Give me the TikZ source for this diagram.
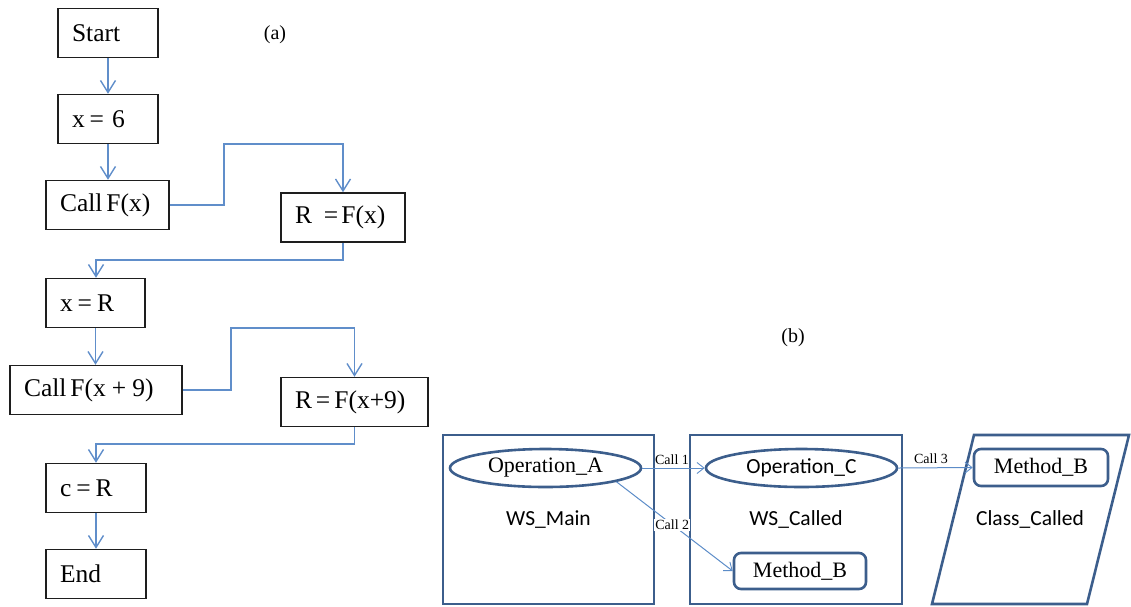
\documentclass[tikz,border=0pt]{standalone}
\usepackage{fontspec}
\setmainfont{Liberation Serif}
\newfontfamily\calib{Carlito}
\usetikzlibrary{arrows.meta,shapes.geometric}
\definecolor{lineblue}{RGB}{96,142,202}
\definecolor{darkblue}{RGB}{60,94,140}
\definecolor{callblue}{RGB}{92,140,200}
\definecolor{boxblack}{RGB}{30,30,30}
\newcommand{\hk}[1]{\kern#1pt\relax}
\begin{document}
\begin{tikzpicture}[x=1pt,y=-1pt,
  fc/.style={draw=boxblack, line width=1.5pt, inner xsep=14pt, inner ysep=0pt,
    minimum height=49pt, align=left, font=\fontsize{25.5}{29}\selectfont},
  conn/.style={draw=lineblue, line width=1.6pt,
    -{Straight Barb[length=12pt,width=15pt,line width=1.4pt]}},
  wsbox/.style={draw=darkblue, line width=2.6pt, inner sep=0pt,
    font=\calib\fontsize{21.5}{24}\selectfont},
  opell/.style={ellipse, draw=darkblue, line width=2.6pt, inner sep=0pt,
    minimum width=191pt, minimum height=38pt},
  mbox/.style={draw=darkblue, line width=2.6pt, rounded corners=7pt, inner sep=0pt,
    font=\fontsize{22}{26}\selectfont},
  callarr/.style={draw=callblue, line width=1pt,
    -{Straight Barb[length=7pt,width=11pt,line width=0.9pt]}},
  calllbl/.style={font=\fontsize{14}{16}\selectfont, inner sep=1pt}
]
\useasboundingbox (0,0) rectangle (1131,606);

% ---------- (a) flowchart ----------
\node[fc, text width=72pt] (start) at (108,33) {Start};
\node[fc, text width=72pt] (x6) at (108,119) {x\hk{5}=\hk{8}6};
\node[fc, text width=95pt] (callf) at (107.5,205) {Call\hk{4}F(x)};
\node[fc, text width=96pt] (rf) at (343,217.5) {R\hk{12}=\hk{3}F(x)};
\node[fc, text width=71pt] (xr) at (95.5,303) {x\hk{5}=\hk{5}R};
\node[fc, text width=144pt] (callf9) at (96,390) {Call\hk{4}F(x\hk{6}+\hk{6}9)};
\node[fc, text width=119pt] (rf9) at (354.5,402) {R\hk{4}=\hk{4}F(x+9)};
\node[fc, text width=72pt] (cr) at (96,488) {c\hk{5}=\hk{5}R};
\node[fc, text width=72pt] (endn) at (96,574) {End};

\node[font=\fontsize{20}{24}\selectfont] (la) at (275,35) {(a)};
\node[font=\fontsize{20}{24}\selectfont] (lb) at (793,338) {(b)};

\coordinate (k1) at (224,144);
\coordinate (k2) at (96,260);
\coordinate (k3) at (231,328);
\coordinate (k4) at (96,444);

\draw[conn] (start.south) -- (x6.north);
\draw[conn] (x6.south) -- (x6.south |- callf.north);
\draw[conn] (callf.east) -| (k1) -| (rf.north);
\draw[conn] (rf.south) |- (k2) -- (k2 |- xr.north);
\draw[conn] (xr.south) -- (xr.south |- callf9.north);
\draw[conn] (callf9.east) -| (k3) -| (rf9.north);
\draw[conn] (rf9.south) |- (k4) -- (k4 |- cr.north);
\draw[conn] (cr.south) -- (endn.north);

% ---------- (b) services ----------
\node[wsbox, minimum width=211pt, minimum height=169pt] (wsmain) at (548.5,519.5) {WS\_Main};
\node[wsbox, minimum width=212pt, minimum height=169pt] (wscalled) at (796,519.5) {WS\_Called};

\coordinate (p1) at (974,435);
\coordinate (p2) at (1129,435);
\coordinate (p3) at (1087,604);
\coordinate (p4) at (932,604);
\draw[draw=darkblue, line width=2.6pt, line join=miter] (p1) -- (p2) -- (p3) -- (p4) -- cycle;
\node[font=\calib\fontsize{21.5}{24}\selectfont] (classc) at (1030,519) {Class\_Called};

\node[opell, font=\fontsize{22}{26}\selectfont] (opa) at (545.5,468) {Operation\_A};
\node[opell, font=\calib\fontsize{21.5}{24}\selectfont] (opc) at (801.5,468) {Operation\_C};
\node[mbox, minimum width=132pt, minimum height=36pt] (mb1) at (800,571) {Method\_B};
\node[mbox, minimum width=134pt, minimum height=37pt] (mb2) at (1041,467.5) {Method\_B};

\draw[callarr] (opa.east) -- (opc.west);
\draw[callarr] (opa.-11.5) -- (mb1.west) node[calllbl, pos=0.48, fill=white] (c2) {Call 2};
\draw[callarr] (opc.east) -- (mb2.west);
\node[calllbl] (c1) at (672,460) {Call 1};
\node[calllbl] (c3) at (931,459) {Call 3};
\end{tikzpicture}
\end{document}
